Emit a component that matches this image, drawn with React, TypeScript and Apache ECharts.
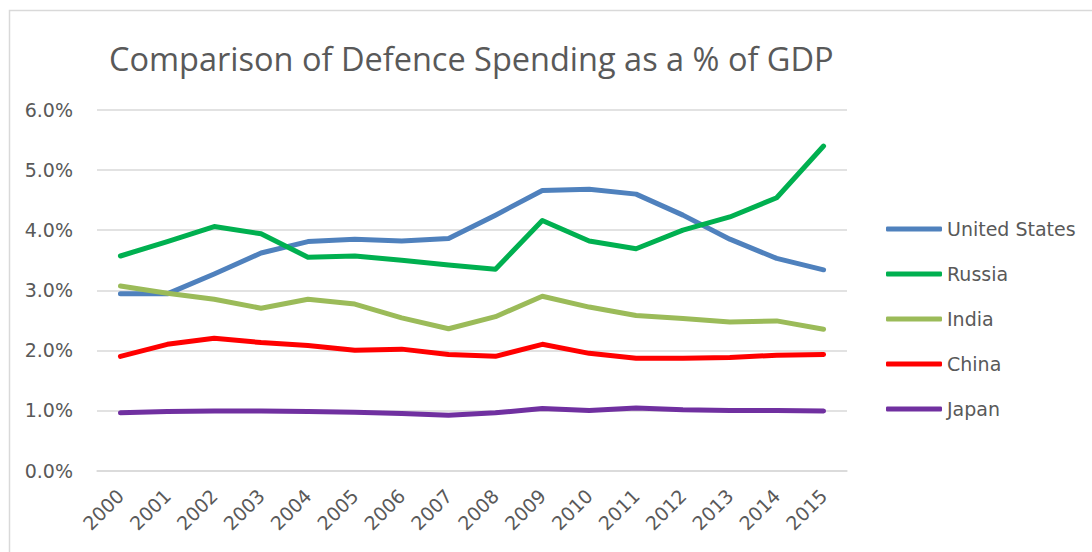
import React, { useEffect, useRef } from "react";
import * as echarts from "echarts";

const years = ["2000","2001","2002","2003","2004","2005","2006","2007","2008","2009","2010","2011","2012","2013","2014","2015"];
const unitedStates = [2.94, 2.94, 3.27, 3.62, 3.81, 3.85, 3.82, 3.86, 4.25, 4.66, 4.68, 4.60, 4.25, 3.85, 3.53, 3.34];
const russia = [3.57, 3.81, 4.06, 3.94, 3.55, 3.57, 3.50, 3.42, 3.35, 4.16, 3.82, 3.69, 4.00, 4.22, 4.54, 5.40];
const india = [3.07, 2.95, 2.85, 2.70, 2.85, 2.77, 2.54, 2.36, 2.56, 2.90, 2.72, 2.58, 2.53, 2.47, 2.49, 2.35];
const china = [1.90, 2.10, 2.20, 2.13, 2.08, 2.00, 2.02, 1.93, 1.90, 2.10, 1.95, 1.87, 1.87, 1.88, 1.92, 1.93];
const japan = [0.96, 0.98, 0.99, 0.99, 0.98, 0.97, 0.95, 0.92, 0.96, 1.03, 1.00, 1.04, 1.01, 1.00, 1.00, 0.99];

const seriesDefs = [
  { name: "United States", data: unitedStates, color: "#4F81BD" },
  { name: "Russia", data: russia, color: "#00B050" },
  { name: "India", data: india, color: "#9BBB59" },
  { name: "China", data: china, color: "#FF0000" },
  { name: "Japan", data: japan, color: "#7030A0" },
];

const TITLE_FONT = "'Open Sans', sans-serif";
const FONT = "'DejaVu Sans', sans-serif";
const GREY = "#595959";

export default function App() {
  const ref = useRef<HTMLDivElement>(null);
  useEffect(() => {
    if (!ref.current) return;
    const chart = echarts.init(ref.current, null, { renderer: "svg" });
    chart.setOption({
      animation: false,
      backgroundColor: "#ffffff",
      title: {
        text: "Comparison of Defence Spending as a % of GDP",
        left: 104,
        top: 37,
        textStyle: { fontFamily: TITLE_FONT, fontSize: 32.5, fontWeight: "normal", color: GREY },
      },
      graphic: [
        {
          type: "rect",
          shape: { x: 9.5, y: 10.5, width: 1300, height: 800 },
          style: { fill: "none", stroke: "#D9D9D9", lineWidth: 1.5 },
          silent: true,
        },
      ],
      legend: {
        orient: "vertical",
        left: 881,
        top: 214,
        itemWidth: 56,
        itemHeight: 5,
        itemGap: 25,
        icon: "roundRect",
        data: seriesDefs.map((s) => s.name),
        textStyle: { fontFamily: FONT, fontSize: 19, color: GREY, lineHeight: 20 },
      },
      grid: { left: 97, right: 245, top: 110, bottom: 81.5 },
      xAxis: {
        type: "category",
        data: years,
        boundaryGap: true,
        axisLine: { show: true, lineStyle: { color: "#D9D9D9", width: 1.5 } },
        axisTick: { show: false },
        axisLabel: { rotate: 45, margin: 22, fontFamily: FONT, fontSize: 19, color: GREY },
      },
      yAxis: {
        type: "value",
        min: 0,
        max: 6,
        interval: 1,
        axisLine: { show: false },
        axisTick: { show: false },
        splitLine: { lineStyle: { color: "#D9D9D9", width: 1.5 } },
        axisLabel: {
          margin: 24,
          fontFamily: FONT,
          fontSize: 19,
          color: GREY,
          formatter: (v: number) => v.toFixed(1) + "%",
        },
      },
      series: seriesDefs.map((s) => ({
        name: s.name,
        type: "line",
        data: s.data,
        symbol: "none",
        color: s.color,
        lineStyle: { width: 5, color: s.color, cap: "round", join: "round" },
        itemStyle: { color: s.color },
      })),
    });
    return () => chart.dispose();
  }, []);
  return (
    <div
      ref={ref}
      style={{ position: "fixed", left: 0, top: 0, width: 1092, height: 552 }}
    />
  );
}
